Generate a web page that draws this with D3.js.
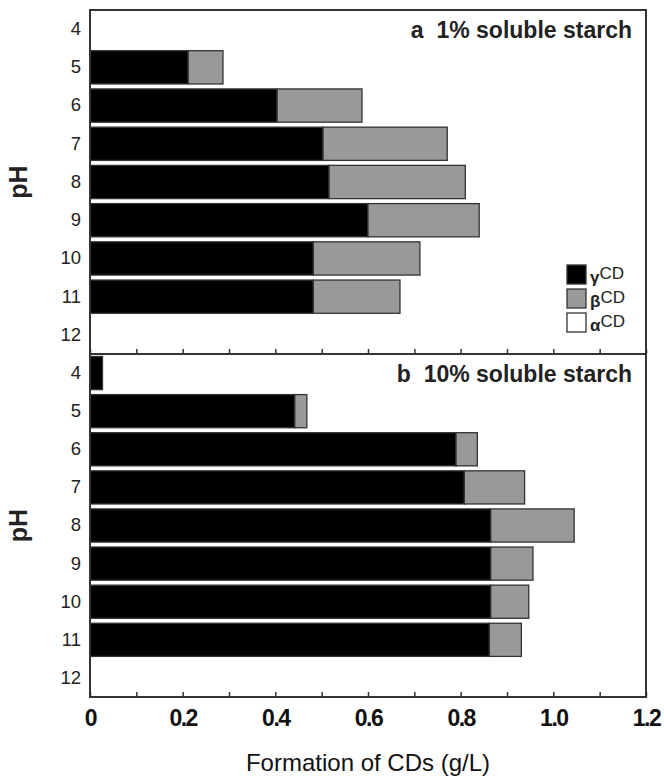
<!DOCTYPE html>
<html>
<head>
<meta charset="utf-8">
<script src="https://cdn.jsdelivr.net/npm/d3@7"></script>
<style>
  body { margin: 0; background: #fff; }
  svg { display: block; font-family: "Liberation Sans", Arial, sans-serif; }
</style>
</head>
<body>
<div id="chart"></div>
<script>
// pH levels shared by both panels
const phLevels = [4, 5, 6, 7, 8, 9, 10, 11, 12];

// panel a: 1% soluble starch (g/L)
const gammaA = [0, 0.212, 0.404, 0.503, 0.516, 0.600, 0.482, 0.482, 0];
const betaA  = [0, 0.075, 0.183, 0.268, 0.294, 0.240, 0.230, 0.187, 0];
const alphaA = [0, 0, 0, 0, 0, 0, 0, 0, 0];

// panel b: 10% soluble starch (g/L)
const gammaB = [0.027, 0.442, 0.790, 0.808, 0.865, 0.865, 0.865, 0.862, 0];
const betaB  = [0, 0.026, 0.046, 0.130, 0.180, 0.091, 0.082, 0.069, 0];
const alphaB = [0, 0, 0, 0, 0, 0, 0, 0, 0];

const xTicks = [0, 0.1, 0.2, 0.3, 0.4, 0.5, 0.6, 0.7, 0.8, 0.9, 1.0, 1.1, 1.2];
const xLabels = { 0: '0', 0.2: '0.2', 0.4: '0.4', 0.6: '0.6', 0.8: '0.8', 1: '1.0', 1.2: '1.2' };

const seriesKeys = ['gamma', 'beta', 'alpha'];
const seriesFill = { gamma: '#000', beta: '#999', alpha: '#fff' };

const width = 664, height = 776;
const left = 90, right = 646;

const svg = d3.select('#chart').append('svg')
  .attr('width', width)
  .attr('height', height);

const x = d3.scaleLinear().domain([0, 1.2]).range([left, right]);

function buildRows(g, b, a) {
  return phLevels.map((ph, i) => ({ ph: ph, gamma: g[i], beta: b[i], alpha: a[i] }));
}

function drawPanel(rows, top, bottom, title, showLabels) {
  const y = d3.scaleBand()
    .domain(phLevels)
    .range([top, bottom])
    .paddingInner(0.13)
    .paddingOuter(0.065);

  const stack = d3.stack().keys(seriesKeys)(rows);

  const layers = svg.append('g').selectAll('g')
    .data(stack)
    .enter().append('g')
    .attr('fill', d => seriesFill[d.key]);

  layers.selectAll('rect')
    .data(d => d.filter(s => s[1] - s[0] > 0))
    .enter().append('rect')
    .attr('x', d => x(d[0]))
    .attr('y', d => y(d.data.ph))
    .attr('width', d => x(d[1]) - x(d[0]))
    .attr('height', y.bandwidth())
    .attr('stroke', '#333')
    .attr('stroke-width', 1.3);

  // y axis labels
  const yAxis = svg.append('g')
    .attr('transform', `translate(${left},0)`)
    .call(d3.axisLeft(y).tickSize(0).tickPadding(9));
  yAxis.select('.domain').remove();
  yAxis.selectAll('text')
    .attr('font-size', 18.5)
    .attr('fill', '#222')
    .attr('font-family', '"Liberation Sans", Arial, sans-serif');

  // x ticks pointing inward
  const xAxis = svg.append('g')
    .attr('transform', `translate(0,${bottom})`)
    .call(d3.axisBottom(x).tickValues(xTicks).tickSizeInner(-5).tickSizeOuter(0)
      .tickPadding(13)
      .tickFormat(d => showLabels ? (xLabels[Math.round(d * 10) / 10] || '') : ''));
  xAxis.select('.domain').remove();
  xAxis.selectAll('line').attr('stroke', '#333').attr('stroke-width', 1.5);
  xAxis.selectAll('text')
    .attr('font-size', 23)
    .attr('font-weight', 'bold')
    .attr('letter-spacing', '-1.5px')
    .attr('fill', '#111')
    .attr('font-family', '"Liberation Sans", Arial, sans-serif');

  // frame
  svg.append('rect')
    .attr('x', left)
    .attr('y', top)
    .attr('width', right - left)
    .attr('height', bottom - top)
    .attr('fill', 'none')
    .attr('stroke', '#333')
    .attr('stroke-width', 2);

  svg.append('text')
    .attr('x', right - 14)
    .attr('y', top + 28)
    .attr('text-anchor', 'end')
    .attr('font-size', 23)
    .attr('font-weight', 'bold')
    .attr('fill', '#222')
    .attr('xml:space', 'preserve')
    .text(title);

  svg.append('text')
    .attr('transform', `translate(27,${(top + bottom) / 2}) rotate(-90)`)
    .attr('text-anchor', 'middle')
    .attr('font-size', 25)
    .attr('font-weight', 'bold')
    .attr('fill', '#222')
    .text('pH');
}

drawPanel(buildRows(gammaA, betaA, alphaA), 10, 354, 'a  1% soluble starch', false);
drawPanel(buildRows(gammaB, betaB, alphaB), 354, 697, 'b  10% soluble starch', true);

// legend
const legendNames = { gamma: '\u03b3', beta: '\u03b2', alpha: '\u03b1' };
const legend = svg.append('g').attr('transform', 'translate(567,265)');
seriesKeys.forEach((k, i) => {
  const row = legend.append('g').attr('transform', `translate(0,${i * 24})`);
  row.append('rect')
    .attr('width', 19)
    .attr('height', 19)
    .attr('fill', seriesFill[k])
    .attr('stroke', '#333')
    .attr('stroke-width', 1.3);
  const t = row.append('text')
    .attr('x', 23)
    .attr('y', 18)
    .attr('fill', '#222');
  t.append('tspan')
    .attr('font-size', 17)
    .attr('font-weight', 'bold')
    .text(legendNames[k]);
  t.append('tspan')
    .attr('font-size', 17)
    .attr('dy', -4)
    .text('CD');
});

svg.append('text')
  .attr('x', (left + right) / 2)
  .attr('y', 771)
  .attr('text-anchor', 'middle')
  .attr('font-size', 24)
  .attr('fill', '#111')
  .text('Formation of CDs (g/L)');
</script>
</body>
</html>
